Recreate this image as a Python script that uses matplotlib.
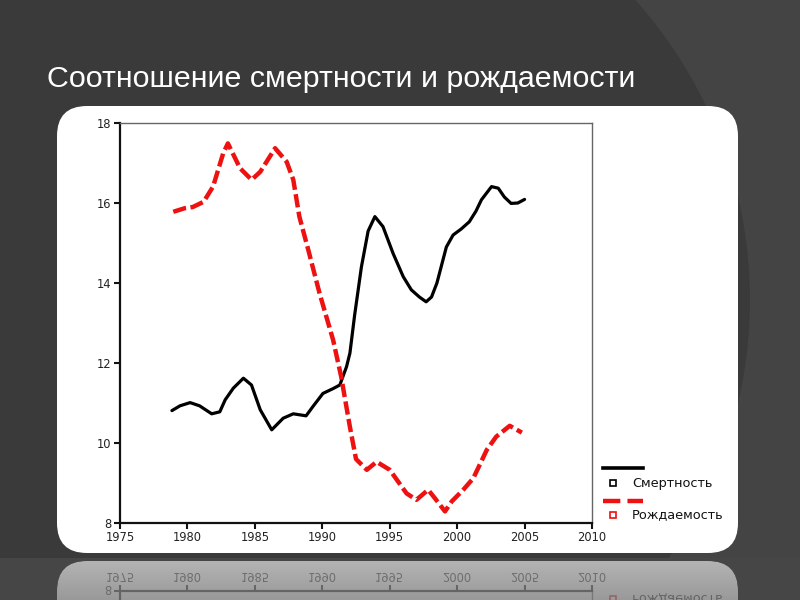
import numpy as np
import matplotlib
matplotlib.use('Agg')
import matplotlib.pyplot as plt
from matplotlib.patches import FancyBboxPatch, Circle, Rectangle
from matplotlib.lines import Line2D

# Mortality and birth rates (per 1000)
mort_years = [1978.85, 1979.45, 1980.2, 1980.9, 1981.8, 1982.4, 1982.8, 1983.4,
              1984.15, 1984.75, 1985.4, 1986.25, 1987.1, 1987.85, 1988.8, 1989.3,
              1990.05, 1990.8, 1991.3, 1991.8, 1992.05,
              1992.4, 1992.9, 1993.4, 1993.9, 1994.5, 1995.25, 1996.0, 1996.6,
              1997.2, 1997.7, 1998.1, 1998.5, 1999.2, 1999.7, 2000.3, 2000.9,
              2001.4, 2001.8, 2002.55, 2003.05, 2003.5, 2004.0, 2004.5, 2005.0]
mortality = [10.81, 10.93, 11.01, 10.93, 10.73, 10.78, 11.08, 11.37,
             11.62, 11.45, 10.83, 10.33, 10.62, 10.73, 10.68, 10.91,
             11.24, 11.36, 11.45, 11.91, 12.25,
             13.2, 14.4, 15.3, 15.66, 15.41, 14.74, 14.16, 13.83,
             13.65, 13.53, 13.65, 14.0, 14.9, 15.2, 15.35, 15.53,
             15.8, 16.08, 16.41, 16.37, 16.15, 15.99, 16.0, 16.09]

birth_years = [1978.95, 1979.8, 1980.4, 1981.2, 1981.9, 1982.65, 1983.0, 1983.9,
               1984.76, 1985.4, 1986.5, 1987.36, 1987.85, 1988.3, 1988.96, 1989.8,
               1990.8, 1991.4, 1992.05, 1992.5, 1993.3, 1994.03, 1995.0, 1996.25,
               1996.98, 1997.85, 1998.35, 1999.1, 1999.6, 2000.45, 2001.2, 2002.2,
               2002.9, 2003.9, 2004.8]
births = [15.78, 15.87, 15.9, 16.03, 16.41, 17.24, 17.49, 16.87,
          16.58, 16.78, 17.37, 17.03, 16.58, 15.66, 14.83, 13.74,
          12.58, 11.66, 10.4, 9.6, 9.33, 9.53, 9.33, 8.74,
          8.58, 8.83, 8.62, 8.29, 8.54, 8.83, 9.12, 9.83,
          10.16, 10.43, 10.26]

x_ticks = [1975, 1980, 1985, 1990, 1995, 2000, 2005, 2010]
y_ticks = [8, 10, 12, 14, 16, 18]
labels = ['Смертность', 'Рождаемость']
title = 'Соотношение смертности и рождаемости'

plt.rcParams['font.family'] = ['Liberation Sans', 'DejaVu Sans']
chart_font = ['DejaVu Sans']


def panel_patch(color):
    return FancyBboxPatch((0.57 + 0.3, 0.47 + 0.3), 6.81 - 0.6, 4.47 - 0.6,
                          boxstyle='round,pad=0.3',
                          transform=fig.dpi_scale_trans,
                          facecolor=color, edgecolor='none', zorder=-1)


fig = plt.figure(figsize=(8, 6), dpi=100)
fig.patch.set_facecolor('#444444')

# slide background: big dark disc over lighter gray, lighter band at the bottom
fig.patches.append(Circle((3.0, 3.0), 4.5, transform=fig.dpi_scale_trans,
                          facecolor='#3a3a3a', edgecolor='none', zorder=-2))
fig.patches.append(Rectangle((0, 0), 8, 0.42, transform=fig.dpi_scale_trans,
                             facecolor='#464646', edgecolor='none', zorder=-1.5))
fig.patches.append(panel_patch('white'))

fig.text(0.059, 0.855, title, color='white', fontsize=21.9,
         ha='left', va='baseline')

ax = fig.add_axes([0.15, 0.1283, 0.59, 0.6667])
ax.set_facecolor('white')
ax.plot(mort_years, mortality, color='black', lw=2.3, solid_capstyle='round',
        solid_joinstyle='round')
ax.plot(birth_years, births, color='#ee1111', lw=3.2, dashes=(3, 1),
        dash_capstyle='butt')

ax.set_xlim(1975, 2010)
ax.set_ylim(8, 18)
ax.set_xticks(x_ticks)
ax.set_yticks(y_ticks)
ax.tick_params(direction='out', length=4, width=1.5, colors='#111111',
               labelsize=8.3, pad=2)
for lbl in ax.get_xticklabels() + ax.get_yticklabels():
    lbl.set_family(chart_font)
    lbl.set_color('#222222')
for side in ['left', 'bottom']:
    ax.spines[side].set_linewidth(1.6)
    ax.spines[side].set_color('#111111')
for side in ['top', 'right']:
    ax.spines[side].set_linewidth(1.0)
    ax.spines[side].set_color('#666666')

# legend in the original's odd layout: line above, square + label below
fig.lines.append(Line2D([0.754, 0.804], [0.22, 0.22], color='black', lw=2.6,
                        transform=fig.transFigure))
fig.lines.append(Line2D([0.766], [0.195], marker='s', ms=4.5, mfc='white',
                        mec='black', mew=1.2, transform=fig.transFigure))
fig.text(0.79, 0.195, labels[0], fontsize=9.3, va='center', color='#111111',
         family=chart_font)
fig.lines.append(Line2D([0.754, 0.804], [0.165, 0.165], color='#ee1111', lw=3.2,
                        dashes=(3.9, 1.6), transform=fig.transFigure))
fig.lines.append(Line2D([0.766], [0.142], marker='s', ms=4.5, mfc='white',
                        mec='#ee1111', mew=1.2, transform=fig.transFigure))
fig.text(0.79, 0.142, labels[1], fontsize=9.3, va='center', color='#111111',
         family=chart_font)

# panel mask, to reflect only what lies on the white panel
fig_ref = fig
fig = plt.figure(figsize=(8, 6), dpi=100)
fig.patch.set_facecolor('black')
fig.patches.append(panel_patch('white'))
fig.canvas.draw()
mask = np.asarray(fig.canvas.buffer_rgba()).astype(float)[:, :, 0] / 255.0
plt.close(fig)
fig = fig_ref

# mirrored reflection of the panel's lower edge
fig.canvas.draw()
img = np.asarray(fig.canvas.buffer_rgba()).astype(float) / 255.0
src = img[514:555][::-1, :, :3]
msk = mask[514:555][::-1][:, :, None]
dest = img[559:600, :, :3]
src = 0.5 + 0.5 * src
fade = np.linspace(0.6, 0.45, src.shape[0])[:, None, None] * msk
out = dest * (1 - fade) + src * fade
strip = np.dstack([out, np.ones(out.shape[:2])])
fig.figimage(strip, xo=0, yo=0, origin='upper', zorder=10)

fig.savefig('out.png', dpi=100, facecolor=fig.get_facecolor())
